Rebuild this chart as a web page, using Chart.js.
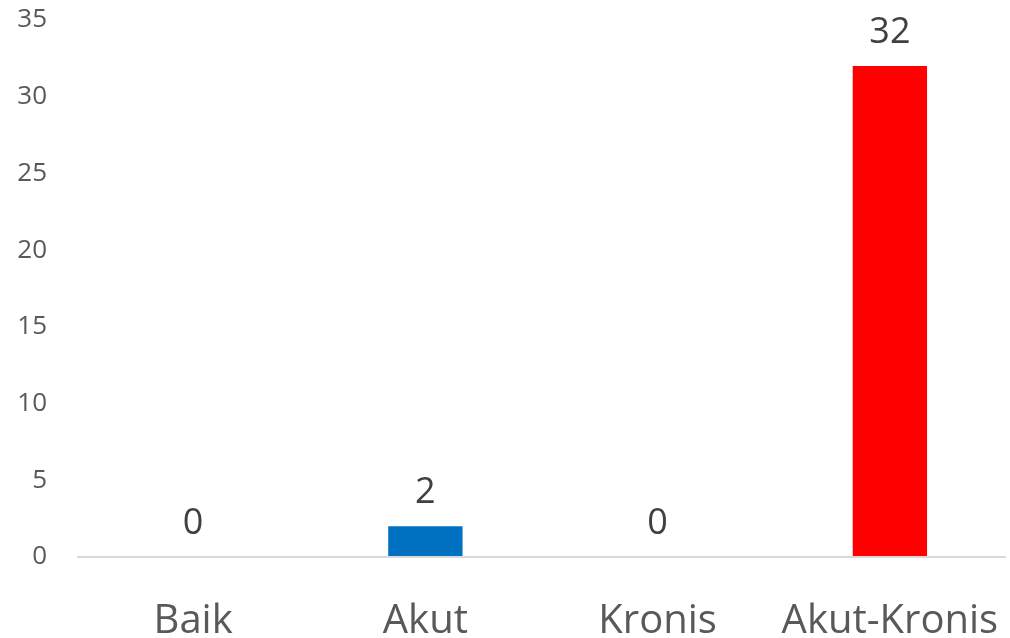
<!DOCTYPE html>
<html>
<head>
<meta charset="utf-8">
<script src="https://cdn.jsdelivr.net/npm/chart.js@4"></script>
<style>
  html, body { margin: 0; padding: 0; background: #fff; }
  #wrap { width: 1010px; height: 638px; }
</style>
</head>
<body>
<div id="wrap"><canvas id="bar-chart"></canvas></div>
<script>
const categories = ["Baik", "Akut", "Kronis", "Akut-Kronis"];
const values = [0, 2, 0, 32];
const barColors = ["#0070C0", "#0070C0", "#0070C0", "#FF0000"];
const yTicks = [0, 5, 10, 15, 20, 25, 30, 35];

const FONT = "'Open Sans', 'Liberation Sans', sans-serif";

// Label angka di atas batang
const valueLabels = {
   id: 'valueLabels',
   afterDatasetsDraw(chart) {
      const ctx = chart.ctx;
      const meta = chart.getDatasetMeta(0);
      ctx.save();
      ctx.font = '36px ' + FONT;
      ctx.fillStyle = '#404040';
      ctx.textAlign = 'center';
      ctx.textBaseline = 'alphabetic';
      meta.data.forEach((bar, i) => {
         ctx.fillText(String(values[i]), bar.x, bar.y - 23);
      });
      ctx.restore();
   }
};

const ctx2 = document.getElementById("bar-chart");
const chart = new Chart(ctx2, {
   type: 'bar',
   data: {
      labels: categories,
      datasets: [{
         data: values,
         backgroundColor: barColors,
         borderWidth: 0,
         categoryPercentage: 1,
         barPercentage: 0.32
      }]
   },
   options: {
      responsive: true,
      maintainAspectRatio: false,
      animation: false,
      layout: { padding: { top: 20, right: 4, left: 0, bottom: 0 } },
      plugins: {
         legend: { display: false },
         tooltip: { enabled: false },
         title: { display: false }
      },
      scales: {
         x: {
            grid: { display: false, drawTicks: false },
            border: { display: false },
            ticks: {
               color: '#595959',
               padding: 41,
               font: { family: FONT, size: 40 }
            },
            afterFit(scale) {
               scale.height = 81;
               scale.paddingLeft = 0;
               scale.paddingRight = 0;
            }
         },
         y: {
            min: 0,
            max: 35,
            afterBuildTicks(scale) {
               scale.ticks = yTicks.map(v => ({ value: v }));
            },
            grid: {
               drawTicks: false,
               color: c => (c.tick && c.tick.value === 0 ? '#d9d9d9' : 'rgba(0,0,0,0)'),
               lineWidth: 2
            },
            border: { display: false },
            ticks: {
               color: '#595959',
               padding: 30,
               font: { family: FONT, size: 26 }
            },
            afterFit(scale) {
               scale.width = 77;
               scale.paddingTop = 0;
               scale.paddingBottom = 0;
            }
         }
      }
   },
   plugins: [valueLabels]
});
</script>
</body>
</html>
